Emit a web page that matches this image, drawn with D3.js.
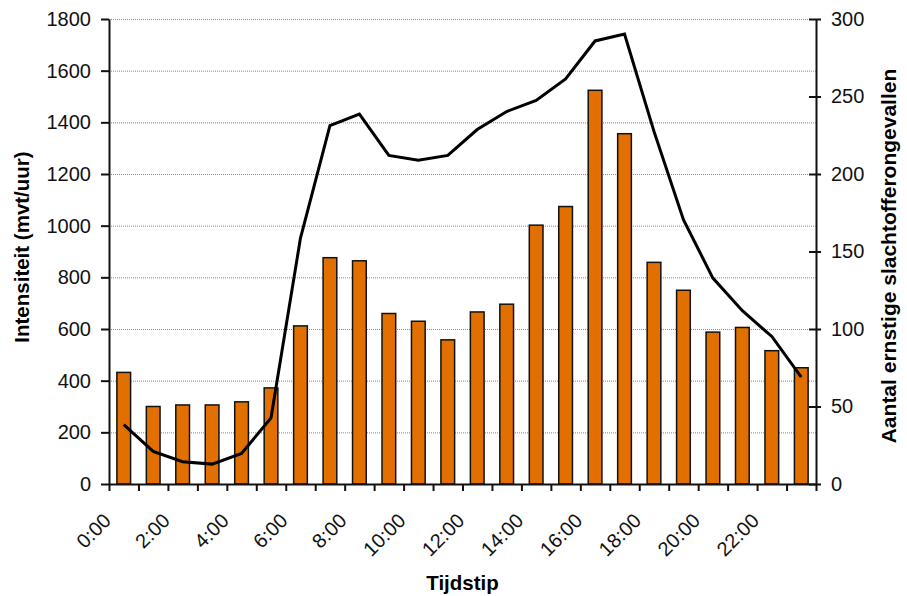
<!DOCTYPE html>
<html>
<head>
<meta charset="utf-8">
<script src="https://cdn.jsdelivr.net/npm/d3@7/dist/d3.min.js"></script>
<style>
  html, body { margin: 0; padding: 0; background: #fff; }
  svg { display: block; font-family: "Liberation Sans", Arial, sans-serif; }
</style>
</head>
<body>
<svg id="chart" width="907" height="596"></svg>
<script>
// Hour of day (24 categories)
const hours = d3.range(24).map(h => h + ":00");
// Traffic intensity per hour (mvt/uur) – left axis, line
const intensiteit = [230, 126, 86, 77, 118, 256, 952, 1387, 1432, 1272, 1253, 1272,
                     1372, 1442, 1485, 1568, 1715, 1742, 1365, 1023, 797, 671, 571, 414];
// Serious-casualty crashes per hour – right axis, bars
const slachtofferongevallen = [72, 50, 51, 51, 53, 62, 102, 146, 144, 110, 105, 93,
                               111, 116, 167, 179, 254, 226, 143, 125, 98, 101, 86, 75];
// Axis ticks
const leftTicks = [0, 200, 400, 600, 800, 1000, 1200, 1400, 1600, 1800];
const rightTicks = [0, 50, 100, 150, 200, 250, 300];
const labelHours = hours.filter((h, i) => i % 2 === 0);

const svg = d3.select("#chart");
const plot = { left: 109, right: 816, top: 19, bottom: 484 };

const x = d3.scaleBand().domain(hours).range([plot.left, plot.right]);
const xEdges = d3.scaleLinear().domain([0, 24]).range([plot.left, plot.right]);
const yL = d3.scaleLinear().domain([0, 1800]).range([plot.bottom, plot.top]);
const yR = d3.scaleLinear().domain([0, 300]).range([plot.bottom, plot.top]);

// Gridlines (dotted, at left-axis ticks)
svg.append("g")
  .selectAll("line")
  .data(leftTicks.filter(d => d > 0))
  .join("line")
  .attr("x1", plot.left).attr("x2", plot.right)
  .attr("y1", d => yL(d) + 0.5).attr("y2", d => yL(d) + 0.5)
  .attr("stroke", "#8a8a8a").attr("stroke-width", 1)
  .attr("stroke-dasharray", "1,1");

// Bars
const barW = 13.7;
svg.append("g")
  .selectAll("rect")
  .data(slachtofferongevallen)
  .join("rect")
  .attr("x", (d, i) => x(hours[i]) + (x.bandwidth() - barW) / 2)
  .attr("y", d => yR(d))
  .attr("width", barW)
  .attr("height", d => plot.bottom - yR(d))
  .attr("fill", "#e27000")
  .attr("stroke", "#111")
  .attr("stroke-width", 1.5);

// Intensity line
const line = d3.line()
  .x((d, i) => x(hours[i]) + x.bandwidth() / 2)
  .y(d => yL(d));
svg.append("path")
  .datum(intensiteit)
  .attr("d", line)
  .attr("fill", "none")
  .attr("stroke", "#000")
  .attr("stroke-width", 3)
  .attr("stroke-linejoin", "miter");

// Left axis
const gL = svg.append("g")
  .attr("transform", `translate(${plot.left},0)`)
  .call(d3.axisLeft(yL).tickValues(leftTicks).tickFormat(d3.format("d"))
    .tickSize(8).tickPadding(10).tickSizeOuter(0));
// Right axis (ticks crossing the axis line)
const gR = svg.append("g")
  .attr("transform", `translate(${plot.right},0)`)
  .call(d3.axisRight(yR).tickValues(rightTicks).tickFormat(d3.format("d"))
    .tickSize(5).tickPadding(10).tickSizeOuter(0));
gR.selectAll(".tick line").attr("x1", -7);
// Bottom axis (ticks at category edges)
const gB = svg.append("g")
  .attr("transform", `translate(0,${plot.bottom})`)
  .call(d3.axisBottom(xEdges).tickValues(d3.range(25)).tickSize(7).tickFormat("").tickSizeOuter(0));

[gL, gR, gB].forEach(g => {
  g.select(".domain").attr("stroke", "#111").attr("stroke-width", 2);
  g.selectAll(".tick line").attr("stroke", "#111").attr("stroke-width", 2);
  g.selectAll(".tick text").attr("fill", "#111").style("font-size", "20px")
    .style("font-family", '"Liberation Sans", Arial, sans-serif');
});

// Rotated hour labels
svg.append("g")
  .selectAll("text")
  .data(labelHours)
  .join("text")
  .attr("transform", d => `translate(${x(d) + x.bandwidth() / 2 - 11.5},522) rotate(-45)`)
  .attr("text-anchor", "end")
  .attr("fill", "#111")
  .style("font-size", "20px")
  .text(d => d);

// Axis titles
svg.append("text")
  .attr("x", (plot.left + plot.right) / 2).attr("y", 590)
  .attr("text-anchor", "middle")
  .style("font-size", "20.5px").style("font-weight", "bold")
  .text("Tijdstip");
svg.append("text")
  .attr("transform", "translate(29,247) rotate(-90)")
  .attr("text-anchor", "middle")
  .style("font-size", "20.5px").style("font-weight", "bold")
  .text("Intensiteit (mvt/uur)");
svg.append("text")
  .attr("transform", "translate(896,256) rotate(-90)")
  .attr("text-anchor", "middle")
  .style("font-size", "21px").style("font-weight", "bold")
  .text("Aantal ernstige slachtofferongevallen");
</script>
</body>
</html>
